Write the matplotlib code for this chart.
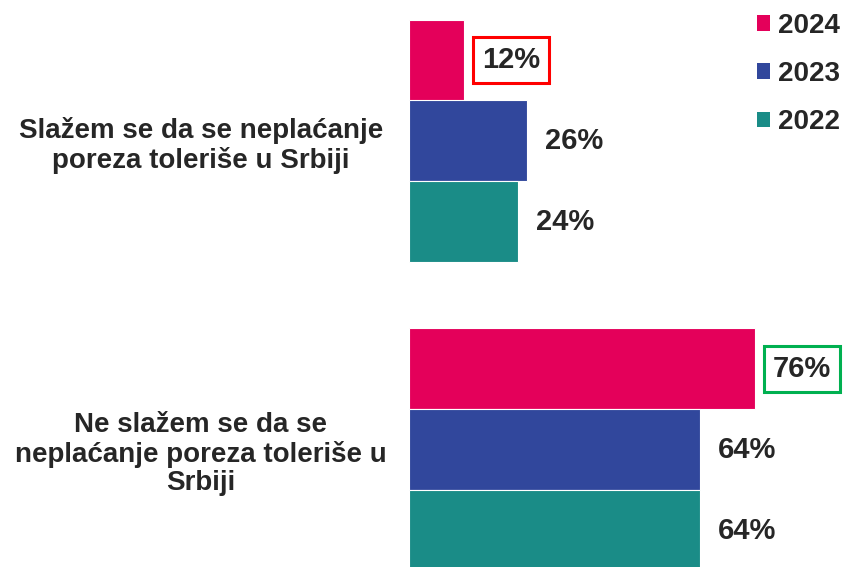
import matplotlib
matplotlib.use("Agg")
import matplotlib.pyplot as plt
from matplotlib.patches import Patch

plt.rcParams['font.family'] = ['Liberation Sans', 'DejaVu Sans']

categories = ["Slažem se da se neplaćanje\nporeza toleriše u Srbiji",
              "Ne slažem se da se\nneplaćanje poreza toleriše u\nSrbiji"]
series_names = ["2024", "2023", "2022"]
values = {
    "2024": [12, 76],
    "2023": [26, 64],
    "2022": [24, 64],
}
colors = {"2024": "#E4005A", "2023": "#31479C", "2022": "#1A8C87"}
highlight = {("2024", 0): "#FF0000", ("2024", 1): "#00B050"}
text_color = "#262626"

W, H = 847, 567
fig = plt.figure(figsize=(W / 100, H / 100), dpi=100)
ax = fig.add_axes([409 / W, 0, 1 - 409 / W, 1])

px_per_unit = 309.0
bar_h = 81 / px_per_unit
offsets = {"2024": -bar_h, "2023": 0.0, "2022": bar_h}

for s in series_names:
    for i, v in enumerate(values[s]):
        y = i + offsets[s]
        ax.barh(y, v, height=bar_h, color=colors[s], edgecolor="white", linewidth=0.8)
        kw = {}
        if (s, i) in highlight:
            kw["bbox"] = dict(boxstyle="square,pad=0.3", fc="white",
                              ec=highlight[(s, i)], lw=2.2)
        ax.annotate(f"{v}%", xy=(v, y), xytext=(13, 0), textcoords="offset points",
                    ha="left", va="center", fontsize=21, fontweight="bold",
                    color=text_color, **kw)

ax.set_xlim(0, (W - 409) / 4.55)
ax.set_ylim((H - 141) / px_per_unit, -141 / px_per_unit)

ax.set_yticks(range(len(categories)))
ax.set_yticklabels(categories, fontsize=20, fontweight="bold", color=text_color,
                   ha="center", multialignment="center", linespacing=1.13)
ax.tick_params(axis="y", length=0, pad=150)
ax.set_xticks([])
for sp in ax.spines.values():
    sp.set_visible(False)

handles = [Patch(facecolor=colors[s], edgecolor="none") for s in series_names]
leg = fig.legend(handles, series_names, loc="upper right",
                 bbox_to_anchor=(1.0 - 4 / W, 1.0 - 10 / H),
                 frameon=False, prop={"family": "Liberation Sans", "weight": "bold", "size": 20},
                 handlelength=0.47, handleheight=0.47, handletextpad=0.3,
                 labelspacing=0.8, borderaxespad=0.1, borderpad=0.0)
for t in leg.get_texts():
    t.set_color(text_color)

fig.savefig("out.png", dpi=100)
